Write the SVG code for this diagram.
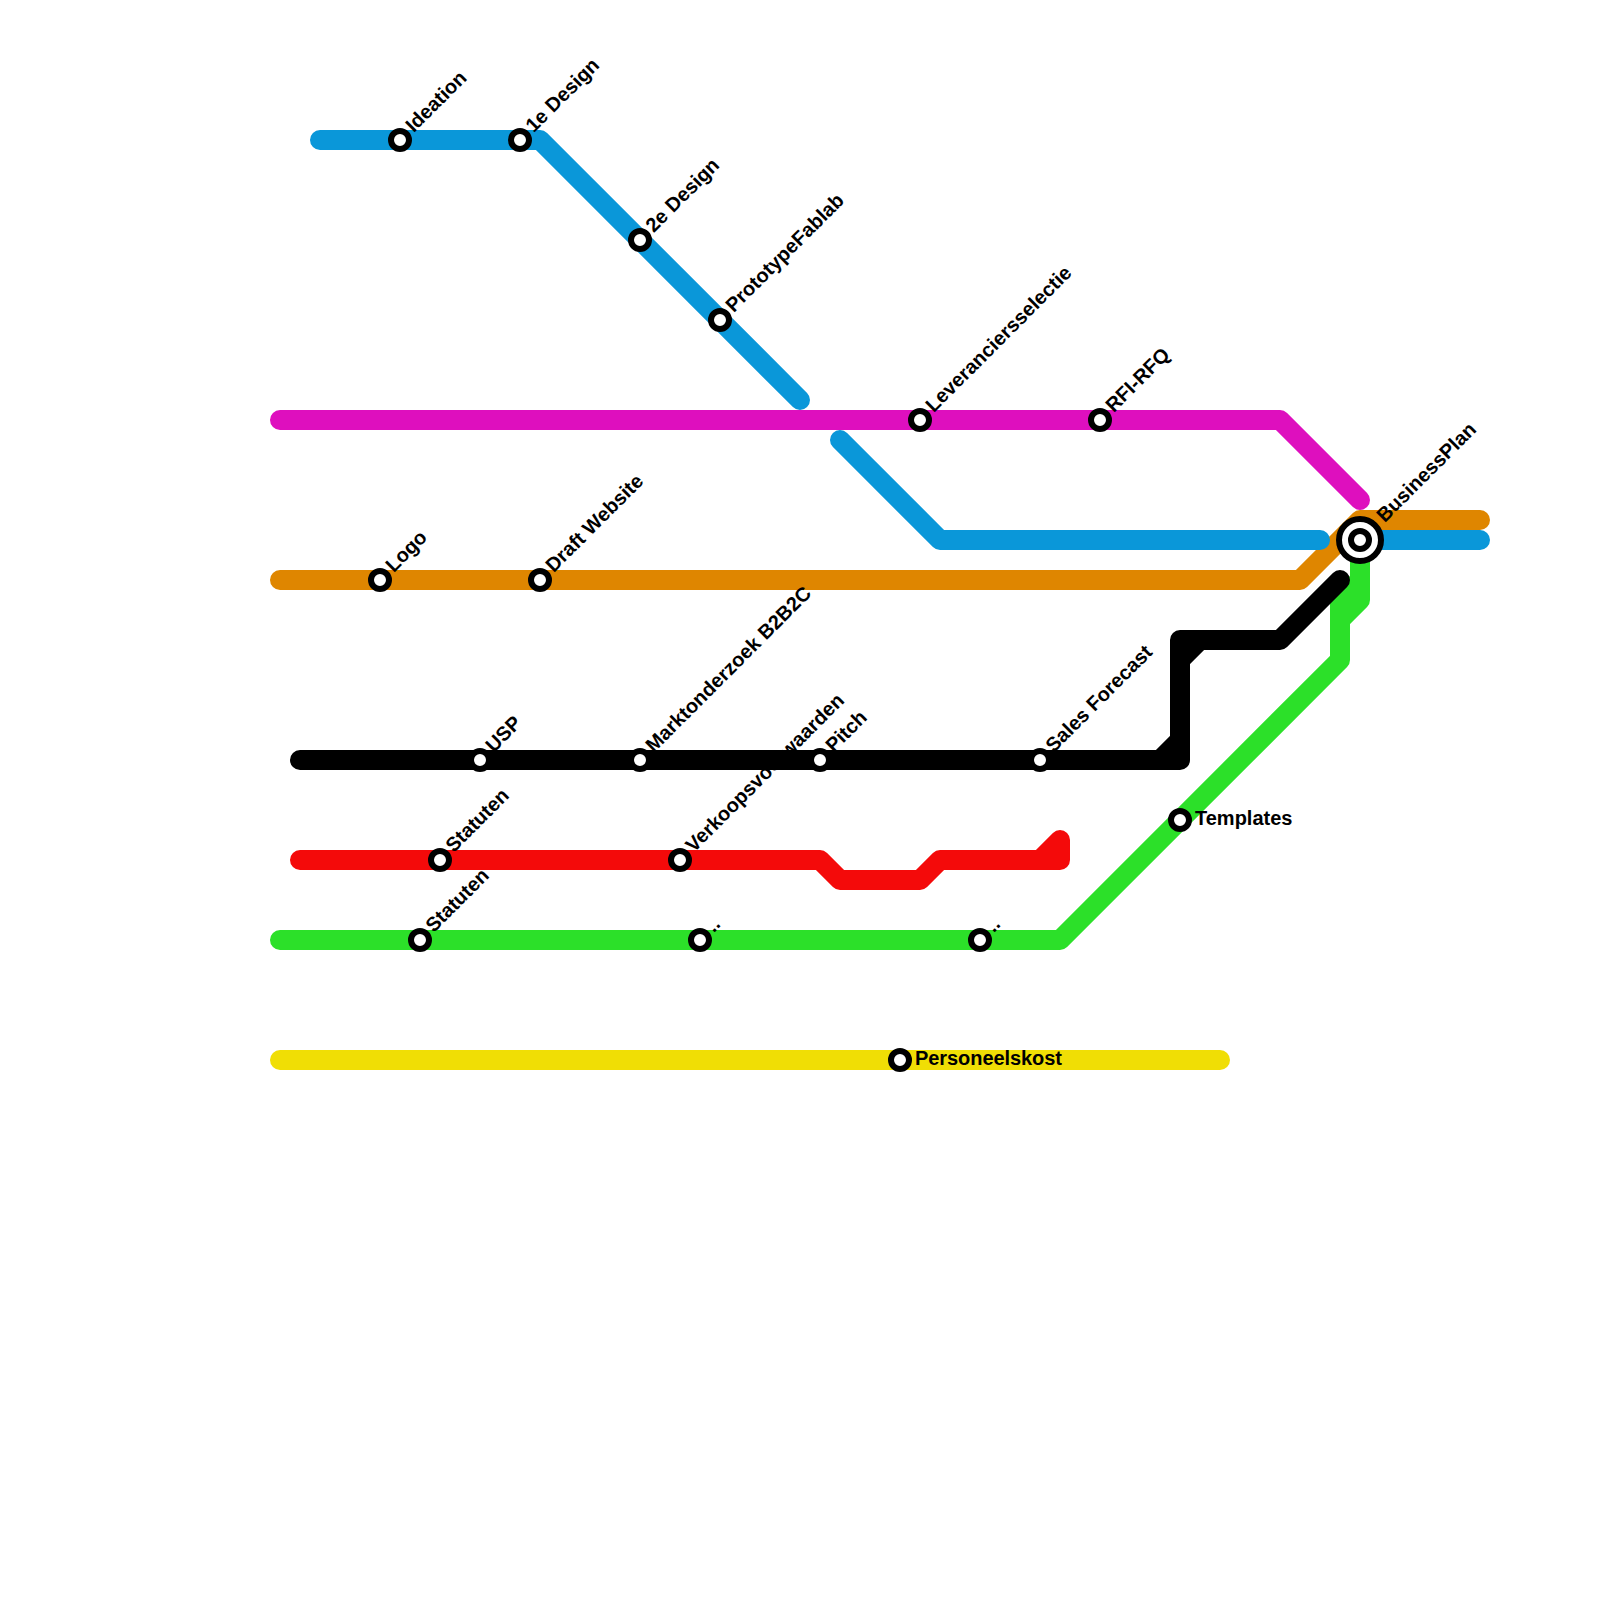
<svg xmlns="http://www.w3.org/2000/svg" width="1600" height="1600" viewBox="0 0 1600 1600">
<style>
.l{fill:none;stroke-width:20;stroke-linecap:round;stroke-linejoin:round}
.s{fill:#fff;stroke:#000;stroke-width:6}
text{font-family:"Liberation Sans",Arial,sans-serif;font-weight:bold;font-size:20px;fill:#000}
</style>
<rect width="1600" height="1600" fill="#fff"/>
<g id="connectors">
<path class="l" stroke="#de0fbe" d="M280 420H1280L1360 500"/>
<path class="l" stroke="#df8600" d="M280 580H1300L1360 520H1480"/>
<path class="l" stroke="#0a97d9" d="M320 140H540L800 400M840 440L940 540H1320M1360 540H1480"/>
<path class="l" stroke="#2ce029" d="M280 940H1060L1340 660V590M1340 620L1360 600V540M1340 600L1360 580"/>
<path class="l" stroke="#000" d="M300 760H1180V640H1280L1340 580M1160 760L1180 740M1180 660L1200 640"/>
<path class="l" stroke="#f40a0a" d="M300 860H820L840 880H920L940 860H1060V840L1040 860"/>
<path class="l" stroke="#f0de05" d="M280 1060H1220"/>
</g>
<g id="n1"><circle class="s" cx="400" cy="140" r="9"/><text transform="translate(408 129) rotate(-45)" x="1" y="7">Ideation</text></g>
<g id="n2"><circle class="s" cx="520" cy="140" r="9"/><text transform="translate(528 129) rotate(-45)" x="1" y="7">1e Design</text></g>
<g id="n3"><circle class="s" cx="640" cy="240" r="9"/><text transform="translate(648 229) rotate(-45)" x="1" y="7">2e Design</text></g>
<g id="n4"><circle class="s" cx="720" cy="320" r="9"/><text transform="translate(728 309) rotate(-45)" x="1" y="7">PrototypeFablab</text></g>
<g id="n5"><circle class="s" cx="920" cy="420" r="9"/><text transform="translate(928 409) rotate(-45)" x="1" y="7">Leveranciersselectie</text></g>
<g id="n6"><circle class="s" cx="1100" cy="420" r="9"/><text transform="translate(1108 409) rotate(-45)" x="1" y="7">RFI-RFQ</text></g>
<g id="n7"><circle class="s" cx="380" cy="580" r="9"/><text transform="translate(388 569) rotate(-45)" x="1" y="7">Logo</text></g>
<g id="n8"><circle class="s" cx="540" cy="580" r="9"/><text transform="translate(548 569) rotate(-45)" x="1" y="7">Draft Website</text></g>
<g id="n9"><circle class="s" cx="480" cy="760" r="9"/><text transform="translate(488 749) rotate(-45)" x="1" y="7">USP</text></g>
<g id="n10"><circle class="s" cx="640" cy="760" r="9"/><text transform="translate(648 749) rotate(-45)" x="1" y="7">Marktonderzoek B2B2C</text></g>
<g id="n11"><circle class="s" cx="820" cy="760" r="9"/><text transform="translate(828 749) rotate(-45)" x="1" y="7">Pitch</text></g>
<g id="n12"><circle class="s" cx="1040" cy="760" r="9"/><text transform="translate(1048 749) rotate(-45)" x="1" y="7">Sales Forecast</text></g>
<g id="n13"><circle class="s" cx="440" cy="860" r="9"/><text transform="translate(448 849) rotate(-45)" x="1" y="7">Statuten</text></g>
<g id="n14"><circle class="s" cx="680" cy="860" r="9"/><text transform="translate(688 849) rotate(-45)" x="1" y="7">Verkoopsvoorwaarden</text></g>
<g id="n15"><circle class="s" cx="420" cy="940" r="9"/><text transform="translate(428 929) rotate(-45)" x="1" y="7">Statuten</text></g>
<g id="n16"><circle class="s" cx="700" cy="940" r="9"/><text transform="translate(708 929) rotate(-45)" x="1" y="7">..</text></g>
<g id="n17"><circle class="s" cx="980" cy="940" r="9"/><text transform="translate(988 929) rotate(-45)" x="1" y="7">..</text></g>
<g id="n18"><circle class="s" cx="900" cy="1060" r="9"/><text x="915" y="1065" textLength="147">Personeelskost</text></g>
<g id="n19"><circle class="s" cx="1180" cy="820" r="9"/><text x="1195" y="825">Templates</text></g>
<g id="n20"><circle class="s" cx="1360" cy="540" r="21"/><circle class="s" cx="1360" cy="540" r="9"/><text transform="translate(1379 519) rotate(-45)" x="1" y="7">BusinessPlan</text></g>
</svg>
